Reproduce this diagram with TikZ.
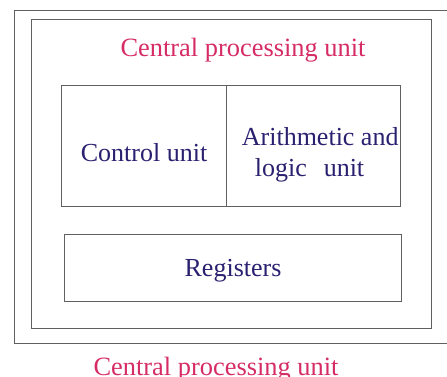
\documentclass[tikz,border=0pt]{standalone}
\usepackage{fontspec}
\setmainfont{Liberation Serif}
\usetikzlibrary{positioning}
\definecolor{cpupink}{RGB}{214,44,102}
\definecolor{cpunavy}{RGB}{42,32,112}
\definecolor{frame}{RGB}{96,96,96}
\newcommand{\unittext}[2][4pt]{\raisebox{-#1}[0pt][0pt]{\begin{tabular}{@{}l@{}}#2\end{tabular}}}
\tikzset{
  framebox/.style={rectangle, draw=frame, line width=0.9pt, inner sep=0pt},
  unitbox/.style={rectangle, draw=frame, line width=0.8pt, inner sep=0pt,
    font=\fontsize{19.5}{23}\selectfont, text=cpunavy},
  cputitle/.style={font=\fontsize{19.8}{19.8}\selectfont, text=cpupink, inner sep=0pt}
}
\begin{document}
\begin{tikzpicture}[x=0.75pt, y=-0.75pt]
  \useasboundingbox (0,0) rectangle (447,376);
  \clip (0,0) rectangle (447,376);
  % frames
  \node[framebox, minimum width=450pt, minimum height=249.75pt, anchor=north west] (outer) at (14,10) {};
  \node[framebox, minimum width=300pt, minimum height=231.75pt, anchor=north west] (inner) at (31,19) {};
  \node[cputitle] (title) at (243,50) {Central processing unit};
  % units
  \node[unitbox, minimum width=123.75pt, minimum height=90.75pt, anchor=north west] (ctrl) at (61,85) {\unittext[12pt]{Control unit}};
  \node[unitbox, minimum width=130.5pt, minimum height=90.75pt, anchor=north west] (alu) at (226,85)
    {\hspace*{10pt}\unittext[12pt]{Arithmetic and\\\hspace{0.5em}logic\hspace{0.4em} unit}};
  \node[unitbox, minimum width=252.75pt, minimum height=50.25pt, anchor=north west] (regs) at (64,234) {\unittext[7pt]{Registers}};
  % caption
  \node[cputitle] (caption) at (216,369) {Central processing unit};
\end{tikzpicture}
\end{document}
